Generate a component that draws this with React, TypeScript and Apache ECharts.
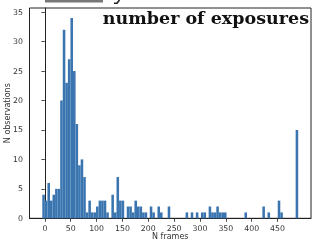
import React, { useEffect, useRef } from "react";
import * as echarts from "echarts";

// histogram bins (uniform), counts
const binStart = -5;
const binWidth = 4.95;
const counts = [
  4, 3, 6, 3, 4, 5, 5, 20, 32, 23,
  27, 34, 25, 16, 9, 10, 7, 1, 3, 1,
  1, 2, 3, 3, 3, 1, 0, 4, 1, 7,
  3, 3, 0, 2, 2, 1, 3, 2, 2, 1,
  1, 0, 2, 1, 0, 2, 1, 0, 0, 2,
  0, 0, 0, 0, 0, 0, 1, 0, 1, 0,
  1, 0, 1, 1, 0, 2, 1, 1, 2, 1,
  1, 1, 0, 0, 0, 0, 0, 0, 0, 1,
  0, 0, 0, 0, 0, 0, 2, 0, 1, 0,
  0, 0, 3, 1, 0, 0, 0, 0, 0, 15,
];
const xTicks = [0, 50, 100, 150, 200, 250, 300, 350, 400, 450];
const yTicks = [0, 5, 10, 15, 20, 25, 30, 35];
const xRange = [-29.75, 514.75];
const yRange = [0, 35.7];
const titleText = "number of exposures";
const xName = "N frames";
const yName = "N observations";

const BAR = "#3a75b0";
const INK = "#333";

export default function App() {
  const ref = useRef<HTMLDivElement>(null);
  useEffect(() => {
    if (!ref.current) return;
    const chart = echarts.init(ref.current, null, { renderer: "svg" });
    const data = counts
      .map((c, i) => [binStart + i * binWidth, binStart + (i + 1) * binWidth, c])
      .filter((d) => d[2] > 0);
    chart.setOption({
      animation: false,
      grid: {
        left: 29.5,
        right: 2,
        top: 8,
        bottom: 23.7,
        containLabel: false,
        outerBoundsMode: "none",
        show: true,
        borderColor: "#222",
        borderWidth: 1,
        backgroundColor: "transparent",
      },
      xAxis: {
        type: "value",
        min: xRange[0],
        max: xRange[1],
        name: xName,
        nameLocation: "middle",
        nameGap: 14,
        nameMoveOverlap: false,
        nameTextStyle: { fontFamily: "DejaVu Sans", fontSize: 8, color: INK },
        splitLine: { show: false },
        axisLine: { show: true, lineStyle: { color: "#222", width: 1 } },
        axisTick: {
          show: true,
          length: 3.5,
          customValues: xTicks,
          lineStyle: { color: "#222", width: 0.8 },
        },
        axisLabel: {
          customValues: xTicks,
          fontFamily: "DejaVu Sans",
          fontSize: 7.8,
          color: INK,
          margin: 6,
        },
      },
      yAxis: {
        type: "value",
        min: yRange[0],
        max: yRange[1],
        name: yName,
        nameLocation: "middle",
        nameGap: 18,
        nameRotate: 90,
        nameMoveOverlap: false,
        nameTextStyle: { fontFamily: "DejaVu Sans", fontSize: 8, color: INK },
        splitLine: { show: false },
        axisLine: { show: true, lineStyle: { color: "#222", width: 1 } },
        axisTick: {
          show: true,
          length: 3.5,
          customValues: yTicks,
          lineStyle: { color: "#222", width: 0.8 },
        },
        axisLabel: {
          customValues: yTicks,
          fontFamily: "DejaVu Sans",
          fontSize: 7.8,
          color: INK,
          margin: 6.5,
        },
      },
      graphic: [
        {
          type: "rect",
          shape: { x: 45, y: 0, width: 58, height: 2.5 },
          style: { fill: "#777" },
        },
        {
          type: "polyline",
          shape: { points: [[119.5, 0], [117, 3.2], [114, 3.2]] },
          style: { stroke: "#222", lineWidth: 1.6, fill: null },
        },
        {
          type: "text",
          x: 309,
          y: 9,
          style: {
            text: titleText,
            fontFamily: "DejaVu Serif",
            fontWeight: "bold",
            fontSize: 17.5,
            fill: "#111",
            align: "right",
            verticalAlign: "top",
          },
        },
      ],
      series: [
        {
          type: "custom",
          data,
          encode: { x: [0, 1], y: 2 },
          renderItem: (params: any, api: any) => {
            const p0 = api.coord([api.value(0), 0]);
            const p1 = api.coord([api.value(1), api.value(2)]);
            return {
              type: "rect",
              shape: {
                x: p0[0],
                y: p1[1],
                width: p1[0] - p0[0],
                height: p0[1] - p1[1],
              },
              style: { fill: BAR },
            };
          },
        },
      ],
    });
    return () => chart.dispose();
  }, []);
  return (
    <div
      ref={ref}
      style={{ position: "fixed", left: 0, top: 0, width: 313, height: 242 }}
    />
  );
}
